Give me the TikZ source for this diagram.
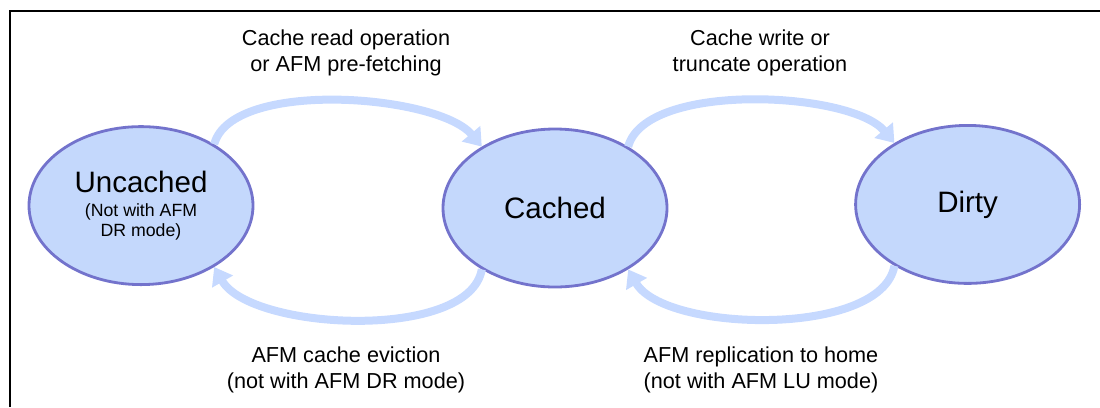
\documentclass[tikz,border=0pt]{standalone}
\usepackage{fontspec}
\setmainfont{Liberation Sans}
\usepackage{tikz}
\usetikzlibrary{shapes.geometric, arrows.meta, positioning}
\definecolor{statefill}{RGB}{196, 216, 252}
\definecolor{stateline}{RGB}{115, 115, 204}
\definecolor{transblue}{RGB}{198, 217, 255}
\newcommand{\bigsz}{\fontsize{21}{25}\selectfont}
\newcommand{\smallsz}{\fontsize{12.6}{14.2}\selectfont}

\begin{document}
\begin{tikzpicture}[
    statenode/.style={ellipse, draw=stateline, line width=2pt, fill=statefill, minimum width=5.6cm, minimum height=3.95cm, inner sep=0pt, align=center, font=\bigsz},
    trans/.style={-{Triangle[length=0.42cm, width=0.58cm]}, draw=transblue, line width=0.2cm},
    lbl/.style={align=center, font=\fontsize{15.4}{18.5}\selectfont}
]
    \useasboundingbox (0,0) rectangle (27.5,-10.175);
    % frame
    \draw[line width=1pt] (0.25,-10.175) |- (27.5,-0.275);

    % States
    \node[statenode] (uncached) at (3.525, -5.14) {Uncached\\[-8pt]{\smallsz (Not with AFM}\\[-10.8pt]{\smallsz DR mode)}};
    \node[statenode] (cached) at (13.875, -5.2) {Cached};
    \node[statenode] (dirty) at (24.19, -5.11) {Dirty};

    % Transitions
    \draw[trans] (uncached.40) to[out=75, in=130, looseness=0.65] (cached.140);
    \draw[trans] (cached.40) to[out=75, in=130, looseness=0.65] (dirty.140);
    \draw[trans] (cached.220) to[out=-100, in=-60, looseness=0.7] (uncached.-40);
    \draw[trans] (dirty.220) to[out=-100, in=-60, looseness=0.7] (cached.-40);

    % Labels
    \node[lbl] (readlbl) at (8.65, -1.325) {Cache read operation\\or AFM pre-fetching};
    \node[lbl] (writelbl) at (19.0, -1.325) {Cache write or\\truncate operation};
    \node[lbl] (evictlbl) at (8.65, -9.24) {AFM cache eviction\\(not with AFM DR mode)};
    \node[lbl] (repllbl) at (19.025, -9.24) {AFM replication to home\\(not with AFM LU mode)};
\end{tikzpicture}
\end{document}
